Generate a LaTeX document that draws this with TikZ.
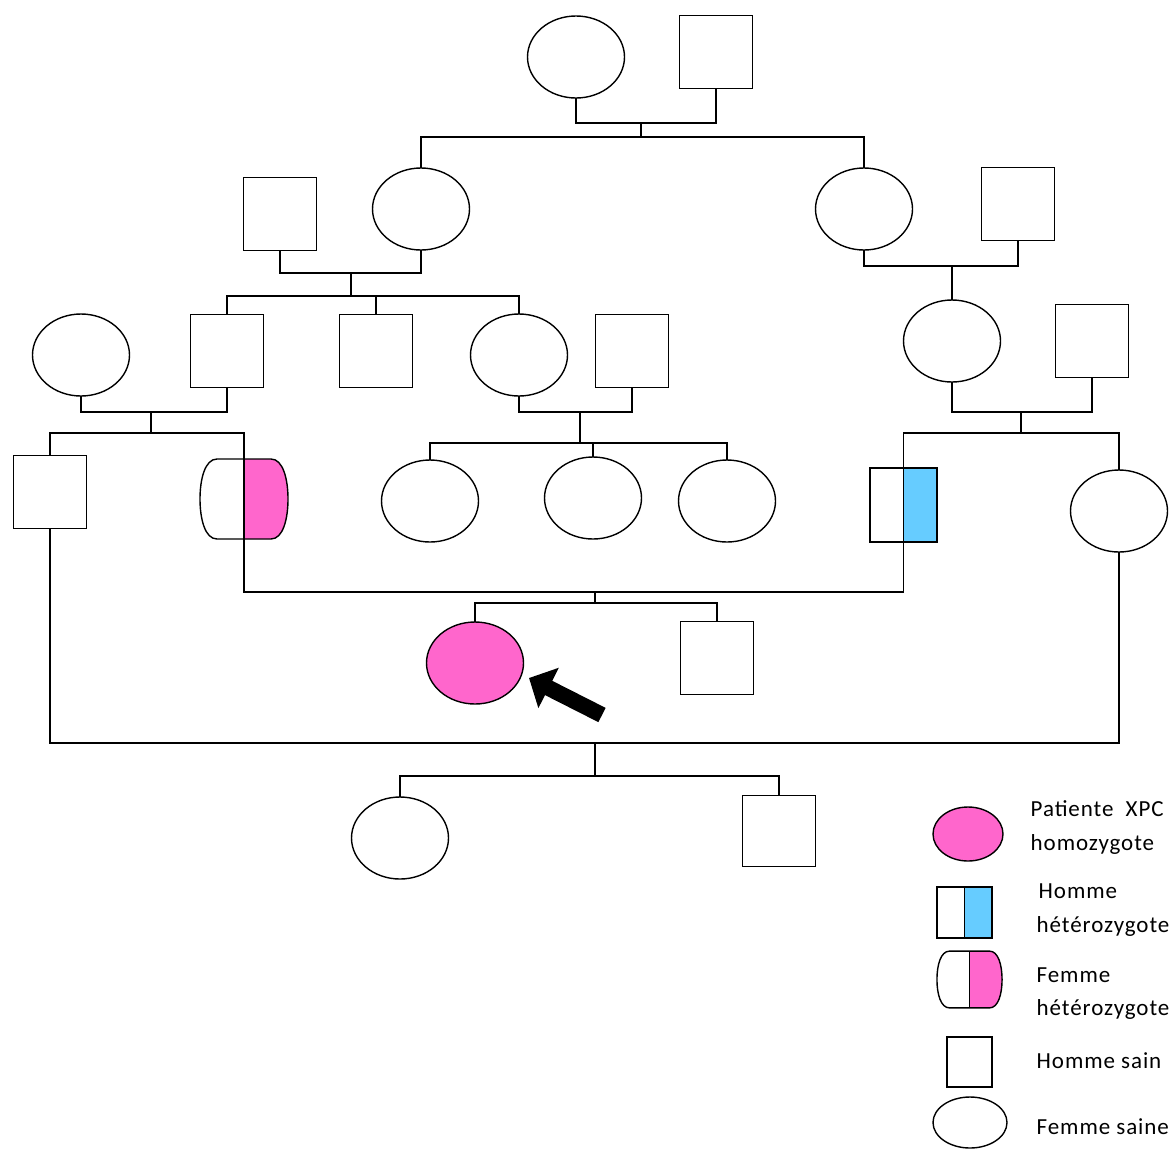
\documentclass[tikz,border=0pt]{standalone}
\usepackage{fontspec}
\setmainfont{Carlito}[LetterSpace=4]
\usepackage{tikz}
\usetikzlibrary{arrows.meta,shapes.geometric}

\definecolor{rosexp}{HTML}{FF66CC}
\definecolor{bleuxp}{HTML}{66CCFF}

\newcommand{\femmehet}[3]{%
  \begin{scope}[shift={(#1.center)}, xscale=#2, yscale=#3]
    \fill[rosexp] (0,-40) -- (27,-40) .. controls (39,-40) and (44,-20) .. (44,0) .. controls (44,20) and (39,40) .. (27,40) -- (0,40) -- cycle;
    \draw[line join=round] (-27,-40) -- (27,-40) .. controls (39,-40) and (44,-20) .. (44,0) .. controls (44,20) and (39,40) .. (27,40) -- (-27,40) .. controls (-39,40) and (-44,20) .. (-44,0) .. controls (-44,-20) and (-39,-40) .. (-27,-40) -- cycle;
    \draw (0,-40) -- (0,40);
  \end{scope}}

\begin{document}
\begin{tikzpicture}[
  x=1pt, y=-1pt, line width=1.4pt,
  femme/.style={draw, ellipse, inner sep=0pt, outer sep=0pt, minimum width=97pt, minimum height=82pt},
  homme/.style={draw, rectangle, inner sep=0pt, outer sep=0pt, minimum width=73pt, minimum height=73pt},
  hommehet/.style={homme, minimum width=67pt, minimum height=74pt,
    path picture={\fill[bleuxp] (path picture bounding box.north) rectangle (path picture bounding box.south east);
      \draw (path picture bounding box.north) -- (path picture bounding box.south);}},
  femmehetbox/.style={rectangle, inner sep=0pt, outer sep=0pt, minimum width=88pt, minimum height=80pt},
  patiente/.style={femme, fill=rosexp},
  pointeur/.style={line width=16pt, -{Triangle[length=22pt, width=44pt]}},
  legende/.style={anchor=base west, inner sep=0pt, font=\fontsize{23}{26}\selectfont}
]
\useasboundingbox (0,0) rectangle (1172,1149);

\node[femme] (gm) at (576,57) {};
\node[homme] (gp) at (716,52) {};

\node[homme] (p2a) at (280,214) {};
\node[femme] (f2a) at (421,209) {};
\node[femme] (f2b) at (864,209) {};
\node[homme] (p2b) at (1018,204) {};

\node[femme] (f3a) at (81,355) {};
\node[homme] (p3b) at (227,351) {};
\node[homme] (p3c) at (376,351) {};
\node[femme] (f3d) at (519,355) {};
\node[homme] (p3e) at (632,351) {};
\node[femme] (f3f) at (952,341) {};
\node[homme] (p3g) at (1092,341) {};

\node[homme] (p4a) at (50,492) {};
\node[femmehetbox] (f4b) at (244,499) {};
\femmehet{f4b}{1}{1}
\node[femme] (f4c) at (430,501) {};
\node[femme] (f4d) at (593,498) {};
\node[femme] (f4e) at (727,501) {};
\node[hommehet] (p4f) at (903.5,505) {};
\node[femme] (f4g) at (1119,511) {};

\node[patiente] (f5a) at (475,663) {};
\node[homme] (p5b) at (717,658) {};
\node[femme] (f5c) at (400,838) {};
\node[homme, minimum height=71pt] (p5d) at (779,831) {};

\coordinate (u1) at (641,123);
\coordinate (s1) at (641,137);
\draw (gm.south) |- (u1) -| (gp.south);
\draw (u1) -- (s1);
\draw (f2a.north) |- (s1) -| (f2b.north);

\coordinate (u2) at (351,273);
\coordinate (s2) at (351,296);
\draw (p2a.south) |- (u2) -| (f2a.south);
\draw (u2) -- (s2);
\draw (p3b.north) |- (s2) -| (f3d.north);
\draw (p3c.north) -- (p3c.north |- s2);

\coordinate (u3) at (952,266);
\draw (f2b.south) |- (u3) -| (p2b.south);
\draw (u3) -- (f3f.north);

\coordinate (u4) at (151,412);
\coordinate (s4) at (151,433);
\draw (f3a.south) |- (u4) -| (p3b.south);
\draw (u4) -- (s4);
\draw (p4a.north) |- (s4) -| (f4b.north);

\coordinate (u5) at (580,412);
\coordinate (s5) at (580,443);
\draw (f3d.south) |- (u5) -| (p3e.south);
\draw (u5) -- (s5);
\draw (f4c.north) |- (s5) -| (f4e.north);
\draw (f4d.north) -- (f4d.north |- s5);

\coordinate (u6) at (1021,412);
\coordinate (s6) at (1021,433);
\draw (f3f.south) |- (u6) -| (p3g.south);
\draw (u6) -- (s6);
\draw (p4f.north) |- (s6) -| (f4g.north);

\coordinate (u7) at (595,592);
\coordinate (s7) at (595,603);
\draw (f4b.south) |- (u7) -| (p4f.south);
\draw (u7) -- (s7);
\draw (f5a.north) |- (s7) -| (p5b.north);

\coordinate (u8) at (595,743);
\coordinate (s8) at (595,776);
\draw (p4a.south) |- (u8) -| (f4g.south);
\draw (u8) -- (s8);
\draw (f5c.north) |- (s8) -| (p5d.north);

\coordinate (queue) at (602,715);
\coordinate (pointe) at (529,678);
\draw[pointeur] (queue) -- (pointe);

\node[patiente, minimum width=70pt, minimum height=54pt] (lg1) at (968,834) {};
\node[hommehet, minimum width=55pt, minimum height=51pt] (lg2) at (964.5,912.5) {};
\node[femmehetbox, minimum width=65pt, minimum height=57pt] (lg3) at (969.5,979.5) {};
\femmehet{lg3}{0.74}{0.71}
\node[homme, minimum width=45pt, minimum height=50pt] (lg4) at (969.5,1062) {};
\node[femme, minimum width=74pt, minimum height=51pt] (lg5) at (970,1122.5) {};

\node[legende] (t1a) at (1030,816) {Patiente~~XPC};
\node[legende] (t1b) at (1030,850) {homozygote};
\node[legende] (t2a) at (1038,898) {Homme};
\node[legende] (t2b) at (1036,932) {hétérozygote};
\node[legende] (t3a) at (1036,982) {Femme};
\node[legende] (t3b) at (1036,1015) {hétérozygote};
\node[legende] (t4) at (1036,1068) {Homme sain};
\node[legende] (t5) at (1036,1134) {Femme saine};
\end{tikzpicture}
\end{document}
